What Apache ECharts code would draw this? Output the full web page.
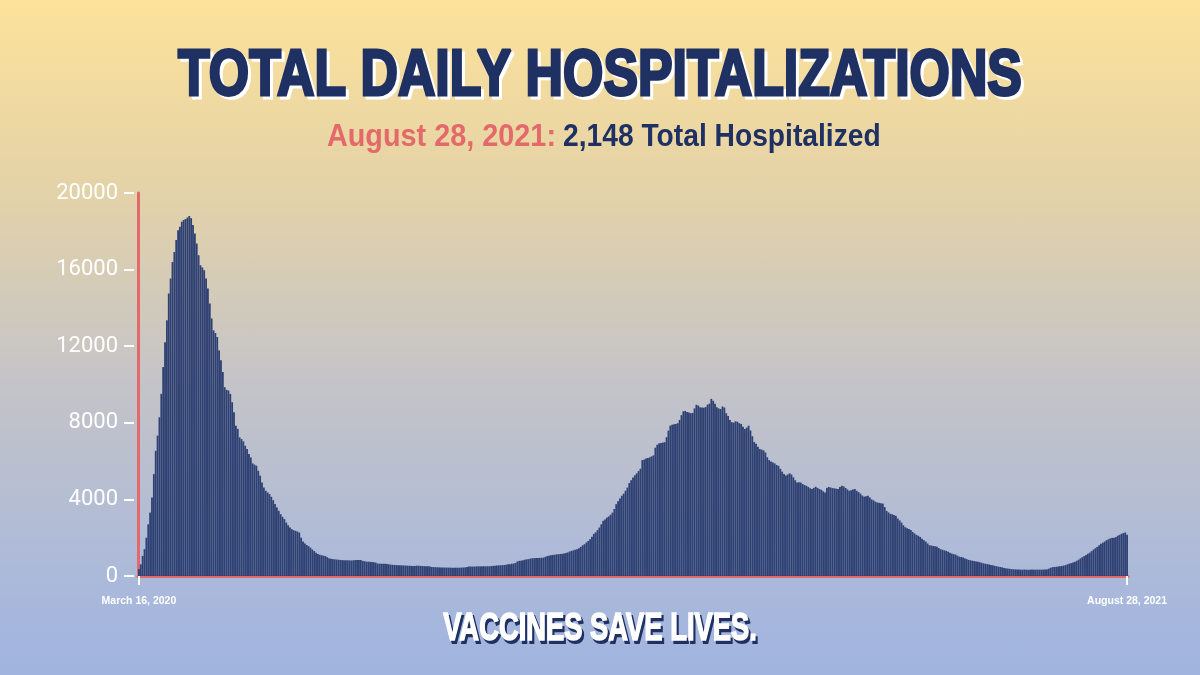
<!DOCTYPE html>
<html><head><meta charset="utf-8">
<script src="https://cdn.jsdelivr.net/npm/echarts@6/dist/echarts.min.js"></script>
<style>
html,body{margin:0;padding:0;width:1200px;height:675px;overflow:hidden;}
body{background:linear-gradient(to bottom,#fde29a 0%,#e5d3a7 27%,#c5c4c7 56%,#a8b8dc 89%,#a0b4df 100%);}
#chart{width:1200px;height:675px;}
</style></head><body><div id="chart"></div>
<script>
// ---- Data: NY total daily hospitalizations ----
const startDate = [2020, 2, 16]; // March 16, 2020 (month is 0-based)
const hosp_2020_03 = [370,610,1050,1400,2000,2700,3310,4100,5320,6540,7330,8290,9510,10910,12210,13350];
const hosp_2020_04 = [14750,15530,16400,16925,17540,18060,18235,18500,18585,18640,18725,18795,18675,18325,17890,17365,16750,16230,16110,15970,15530,15010,14230,13440,12830,12690,12480,11780,11260,10650];
const hosp_2020_05 = [9860,9720,9690,9510,9075,8550,7850,7680,7240,7150,7030,6800,6630,6370,6190,5880,5810,5760,5500,5240,4885,4620,4450,4360,4280,4135,3960,3755,3580,3400,3230];
const hosp_2020_06 = [3090,2970,2790,2655,2530,2445,2390,2355,2320,2270,2000,1800,1700,1620,1560,1480,1380,1300,1210,1150,1110,1080,1060,1040,980,920,900,880,870,860];
const hosp_2020_07 = [850,840,830,825,820,820,815,810,820,830,835,840,835,790,770,750,745,740,730,720,700,650,645,640,640,645,630,610,595,585,575];
const hosp_2020_08 = [570,565,560,555,550,545,540,535,530,525,525,540,535,530,520,515,510,505,500,470,465,460,455,450,450,445,440,440,435,435,430];
const hosp_2020_09 = [430,435,430,435,440,445,450,470,490,495,490,495,500,505,500,505,510,505,510,510,520,530,540,550,555,560,565,575,590,610];
const hosp_2020_10 = [620,640,650,680,760,790,800,820,850,870,880,910,925,930,935,940,945,955,960,1000,1040,1060,1080,1100,1110,1130,1140,1150,1160,1170,1200];
const hosp_2020_11 = [1230,1280,1310,1340,1370,1395,1450,1520,1600,1660,1750,1830,1920,2050,2200,2280,2400,2530,2700,2880,2950,3050,3110,3200,3310,3500,3750,3900,4050,4190];
const hosp_2020_12 = [4300,4450,4620,4850,5000,5150,5260,5360,5480,5600,6050,6080,6130,6160,6200,6250,6300,6700,6850,6930,6950,6970,6990,7250,7590,7850,7900,7920,7940,7980,8150];
const hosp_2021_01 = [8400,8600,8620,8560,8540,8500,8520,8750,8940,8900,8810,8800,8790,8820,8950,9000,9250,9150,9000,8810,8750,8720,8850,8800,8500,8350,8150,8030,8010,8080,8050];
const hosp_2021_02 = [7980,7940,7800,7680,7750,7850,7600,7300,7000,6900,6750,6630,6600,6560,6450,6200,6050,5980,5930,5880,5800,5760,5600,5450,5320,5250,5300,5360];
const hosp_2021_03 = [5300,5150,5000,4880,4890,4880,4800,4750,4710,4650,4580,4540,4600,4660,4600,4540,4500,4420,4360,4600,4650,4620,4590,4580,4560,4540,4650,4710,4680,4600,4520];
const hosp_2021_04 = [4450,4480,4520,4540,4450,4380,4300,4200,4140,4170,4190,4100,4000,3950,3880,3840,3820,3800,3780,3600,3400,3320,3250,3220,3180,3140,3000,2900,2790,2650];
const hosp_2021_05 = [2550,2500,2450,2400,2300,2220,2150,2100,2040,1950,1870,1800,1700,1610,1590,1570,1550,1530,1460,1400,1370,1340,1310,1270,1220,1170,1140,1120,1060,1010,990];
const hosp_2021_06 = [960,920,880,840,820,800,780,760,750,720,690,660,640,620,600,580,560,530,510,490,470,450,420,400,390,375,360,350,345,340];
const hosp_2021_07 = [335,330,330,335,330,325,330,335,330,330,335,330,330,335,340,345,380,430,460,470,480,500,515,525,545,570,610,645,670,700,740];
const hosp_2021_08 = [790,850,920,980,1040,1100,1160,1220,1300,1380,1450,1520,1600,1680,1740,1800,1870,1920,1960,1990,2000,2030,2100,2150,2200,2240,2270,2148];

const yMin = 0, yMax = 20000, yStep = 4000;
const xTickLabels = ['March 16, 2020', 'August 28, 2021'];
const titleText = 'TOTAL DAILY HOSPITALIZATIONS';
const subtitleDate = 'August 28, 2021:';
const subtitleValue = '2,148 Total Hospitalized';
const footerText = 'VACCINES SAVE LIVES.';

const values = [].concat(hosp_2020_03, hosp_2020_04, hosp_2020_05, hosp_2020_06, hosp_2020_07,
  hosp_2020_08, hosp_2020_09, hosp_2020_10, hosp_2020_11, hosp_2020_12, hosp_2021_01,
  hosp_2021_02, hosp_2021_03, hosp_2021_04, hosp_2021_05, hosp_2021_06, hosp_2021_07, hosp_2021_08);
const categories = values.map((_, i) =>
  new Date(Date.UTC(startDate[0], startDate[1], startDate[2] + i)).toISOString().slice(0, 10));
const lastIdx = categories.length - 1;
const isEdge = (i) => i === 0 || i === lastIdx;

const NAVY = '#1f3063';
const SALMON = '#e4696b';
const SANS = '"Liberation Sans", Arial, sans-serif';

const chart = echarts.init(document.getElementById('chart'), null, { renderer: 'canvas' });
chart.setOption({
  backgroundColor: 'transparent',
  animation: false,
  graphic: [
    // title with white hard shadow
    { type: 'text', x: 603, y: 80, scaleX: 0.81, z: 10,
      style: { text: titleText, textAlign: 'center', textVerticalAlign: 'middle',
        font: 'bold 64px ' + SANS, fill: '#ffffff', stroke: '#ffffff', lineWidth: 3 } },
    { type: 'text', x: 600, y: 77, scaleX: 0.81, z: 11,
      style: { text: titleText, textAlign: 'center', textVerticalAlign: 'middle',
        font: 'bold 64px ' + SANS, fill: NAVY, stroke: NAVY, lineWidth: 3 } },
    // subtitle
    { type: 'text', x: 556, y: 137, scaleX: 0.93, z: 11,
      style: { text: subtitleDate, textAlign: 'right', textVerticalAlign: 'middle',
        font: 'bold 31px ' + SANS, fill: SALMON } },
    { type: 'text', x: 563, y: 137, scaleX: 0.91, z: 11,
      style: { text: subtitleValue, textAlign: 'left', textVerticalAlign: 'middle',
        font: 'bold 31px ' + SANS, fill: NAVY } },
    // footer with navy hard shadow
    { type: 'text', x: 602, y: 633, scaleX: 0.72, z: 10,
      style: { text: footerText, textAlign: 'center', textVerticalAlign: 'middle',
        font: 'bold 38px ' + SANS, fill: NAVY, stroke: NAVY, lineWidth: 2 } },
    { type: 'text', x: 600, y: 630, scaleX: 0.72, z: 11,
      style: { text: footerText, textAlign: 'center', textVerticalAlign: 'middle',
        font: 'bold 38px ' + SANS, fill: '#ffffff', stroke: '#ffffff', lineWidth: 1.5 } }
  ],
  grid: { left: 138, right: 72, top: 193, bottom: 99, containLabel: false },
  xAxis: {
    type: 'category',
    data: categories,
    boundaryGap: true,
    axisLine: { show: true, lineStyle: { color: SALMON, width: 3 } },
    axisTick: { show: true, alignWithLabel: true, interval: (i) => isEdge(i), length: 9,
      lineStyle: { color: '#ffffff', width: 2 } },
    axisLabel: { show: true, interval: (i) => isEdge(i), margin: 20,
      formatter: (v, i) => (i === 0 ? xTickLabels[0] : xTickLabels[1]),
      color: '#ffffff', fontSize: 10.5, fontWeight: 'bold', fontFamily: SANS },
    splitLine: { show: false }
  },
  yAxis: [
    {
      type: 'value', min: yMin, max: yMax, interval: yStep, offset: 4,
      axisLine: { show: false },
      axisTick: { show: true, length: 10, lineStyle: { color: '#ffffff', width: 2 } },
      axisLabel: { color: '#ffffff', fontSize: 22, fontFamily: 'Roboto, ' + SANS, margin: 16,
        formatter: (v) => String(v) },
      splitLine: { show: false }
    },
    {
      type: 'value', min: yMin, max: yMax, interval: yStep, position: 'left',
      axisLine: { show: true, lineStyle: { color: SALMON, width: 3 } },
      axisTick: { show: false }, axisLabel: { show: false }, splitLine: { show: false }
    }
  ],
  series: [{
    type: 'bar',
    data: values,
    yAxisIndex: 0,
    barCategoryGap: '2%',
    itemStyle: { color: '#2f4173' },
    z: 1
  }]
});
</script></body></html>
